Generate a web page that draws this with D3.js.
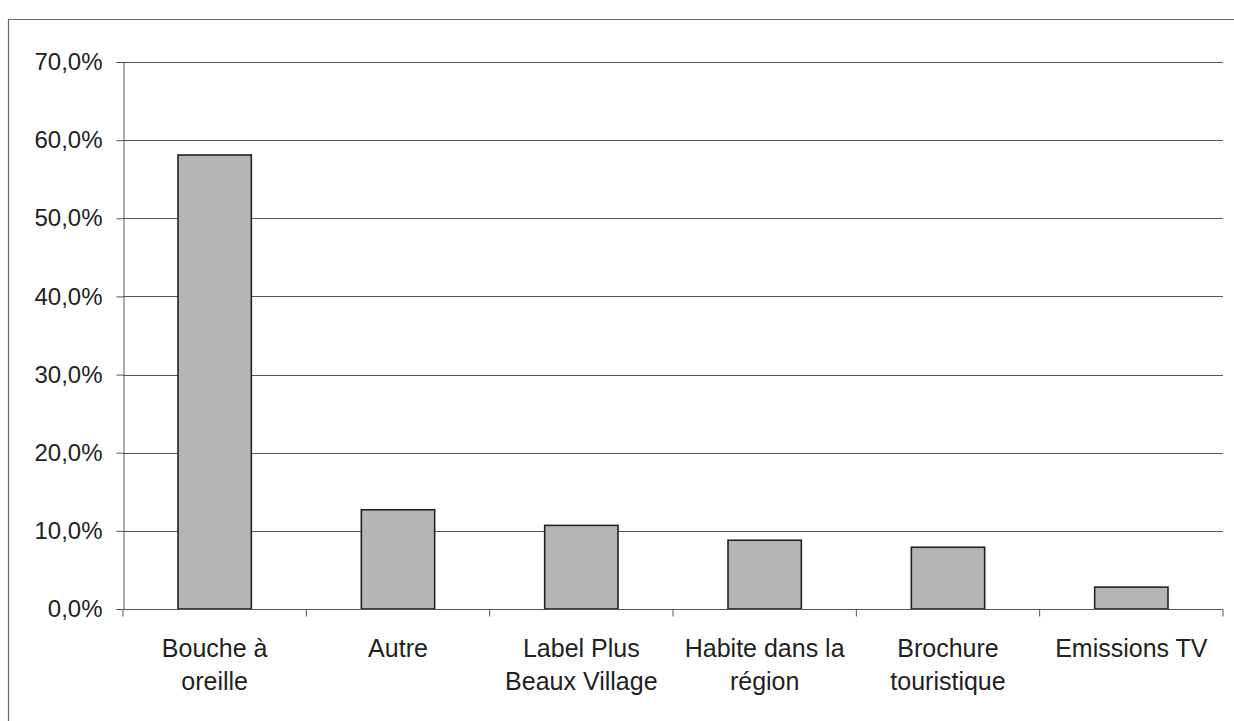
<!DOCTYPE html>
<html><head><meta charset="utf-8">
<script src="https://cdn.jsdelivr.net/npm/d3@7"></script>
<style>body{margin:0;background:#fff}svg{display:block}</style>
</head><body><svg id="c" width="1234" height="721"></svg>
<script>
const categories = [["Bouche à","oreille"],["Autre"],["Label Plus","Beaux Village"],["Habite dans la","région"],["Brochure","touristique"],["Emissions TV"]];
const values = [0.581, 0.127, 0.107, 0.088, 0.079, 0.028];
const yTicks = [0,0.1,0.2,0.3,0.4,0.5,0.6,0.7];

const svg = d3.select("#c");
const m = {l:123, r:1223, t:62, b:609};
const keys = categories.map((c,i)=>i);
const x = d3.scaleBand().domain(keys).range([m.l,m.r]).paddingInner(0.6).paddingOuter(0.3);
const xb = d3.scaleBand().domain(keys).range([m.l,m.r]);
const y = d3.scaleLinear().domain([0,0.7]).range([m.b,m.t]);
const fmt = v => d3.format(".1f")(v*100).replace(".",",")+"%";
const font = "'Liberation Sans', Arial, sans-serif";

// frame
svg.append("path").attr("d","M8.5,721 V19.5 H1234").attr("fill","none").attr("stroke","#666").attr("stroke-width",1.2);

// gridlines
svg.append("g").selectAll("line").data(yTicks.slice(1)).join("line")
  .attr("x1",m.l).attr("x2",m.r).attr("y1",d=>Math.round(y(d))+0.5).attr("y2",d=>Math.round(y(d))+0.5)
  .attr("stroke","#555").attr("stroke-width",1);

// y axis
const ya = svg.append("g").attr("transform",`translate(${m.l+0.5},0)`)
  .call(d3.axisLeft(y).tickValues(yTicks).tickFormat(fmt).tickSize(7).tickPadding(14));
ya.select(".domain").attr("stroke","#555");
ya.selectAll(".tick line").attr("stroke","#555");
ya.selectAll("text").attr("font-family",font).attr("font-size",24).attr("fill","#222");

// bars
svg.append("g").selectAll("rect").data(values).join("rect")
  .attr("x",(d,i)=>x(i)).attr("width",x.bandwidth())
  .attr("y",d=>y(d)).attr("height",d=>y(0)-y(d))
  .attr("fill","#b5b5b5").attr("stroke","#222").attr("stroke-width",1.6);

// x axis
const xa = svg.append("g").attr("transform",`translate(0,${m.b+0.5})`);
xa.append("line").attr("x1",m.l).attr("x2",m.r).attr("stroke","#555");
xa.selectAll(".tk").data(d3.range(keys.length+1)).join("line")
  .attr("x1",i=>i<keys.length?xb(i):m.r).attr("x2",i=>i<keys.length?xb(i):m.r)
  .attr("y1",0).attr("y2",7).attr("stroke","#555");
const lbl = xa.selectAll(".lb").data(categories).join("text")
  .attr("x",(d,i)=>xb(i)+xb.bandwidth()/2).attr("y",47)
  .attr("text-anchor","middle").attr("font-family",font).attr("font-size",25).attr("fill","#222");
lbl.selectAll("tspan").data(d=>d).join("tspan")
  .attr("x",function(){return this.parentNode.getAttribute("x");})
  .attr("dy",(d,i)=>i?33:0).text(d=>d);
</script></body></html>
